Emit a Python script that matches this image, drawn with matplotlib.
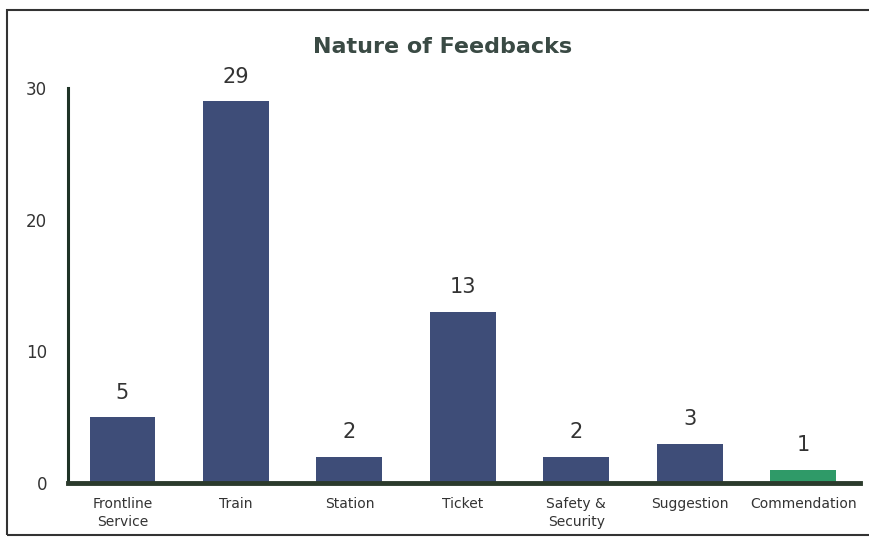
import matplotlib.pyplot as plt
from matplotlib.patches import Rectangle

categories = ['Frontline\nService', 'Train', 'Station', 'Ticket',
              'Safety &\nSecurity', 'Suggestion', 'Commendation']
counts = [5, 29, 2, 13, 2, 3, 1]
bar_colors = ['#3e4d78'] * 6 + ['#2f9a68']
y_ticks = [0, 10, 20, 30]

fig = plt.figure(figsize=(8.7, 5.41), dpi=100)
ax = fig.add_axes([68 / 870, 1 - 483 / 541, (860 - 68) / 870, (483 - 88) / 541])

x = list(range(len(categories)))
bars = ax.bar(x, counts, width=0.58, color=bar_colors, edgecolor='none')

# value labels over the bars
for xi, v in zip(x, counts):
    ax.text(xi, v + 1.1, str(v), ha='center', va='bottom', fontsize=15, color='#333333')

ax.set_xlim(-0.48, 6.5)
ax.set_ylim(0, 30)
ax.set_yticks(y_ticks)
ax.set_xticks(x)
ax.set_xticklabels(categories, fontsize=10, color='#333333', linespacing=1.35)
ax.tick_params(axis='y', length=0, pad=15, labelsize=12, labelcolor='#333333')
ax.tick_params(axis='x', length=0, pad=10)

for spine in ['top', 'right']:
    ax.spines[spine].set_visible(False)
ax.spines['left'].set_color('#1e3326')
ax.spines['left'].set_linewidth(2.2)
ax.spines['bottom'].set_color('#2b3a2c')
ax.spines['bottom'].set_linewidth(3.5)

fig.text(443 / 870, 1 - 47 / 541, 'Nature of Feedbacks', ha='center', va='center',
         fontsize=16, fontweight='bold', color='#3a4a44')

# scanned border around the chart
fig.patches.append(Rectangle((7 / 870, 6 / 541), 870 / 870, 525 / 541,
                             transform=fig.transFigure, fill=False,
                             edgecolor='#333333', linewidth=1.5))

fig.savefig('out.png', dpi=100)
